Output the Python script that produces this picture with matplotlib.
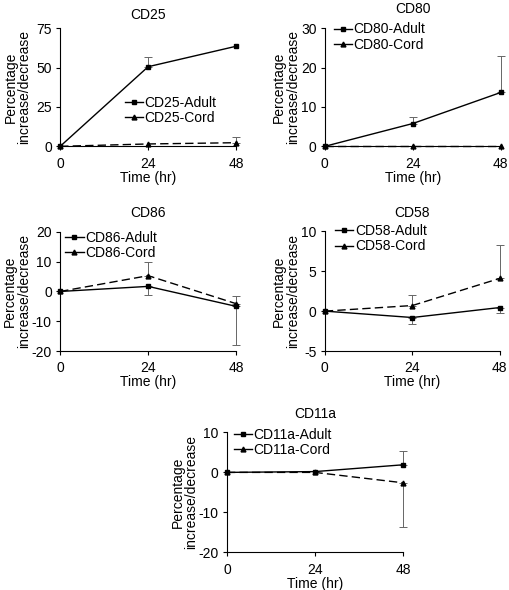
"""
variation (%) des marqueurs de surface — adulte vs cordon, 0/24/48 h
sortie : out.png
"""

import matplotlib
matplotlib.use("Agg")
import matplotlib.pyplot as plt

plt.rcParams["font.family"] = ["Liberation Sans", "DejaVu Sans"]
plt.rcParams["font.size"] = 10
plt.rcParams["axes.unicode_minus"] = False

# ── données ──────────────────────────────────────────────────────────────
TIME = [0, 24, 48]

MARKERS = ["CD25", "CD80", "CD86", "CD58", "CD11a"]

ADULT = {
    "CD25":  [0, 50.6, 63.6],
    "CD80":  [0, 5.8, 13.7],
    "CD86":  [0, 1.7, -5.0],
    "CD58":  [0, -0.8, 0.45],
    "CD11a": [0, 0.2, 1.9],
}
CORD = {
    "CD25":  [0, 1.5, 2.3],
    "CD80":  [0, 0, 0],
    "CD86":  [0, 5.3, -4.1],
    "CD58":  [0, 0.7, 4.1],
    "CD11a": [0, 0, -2.6],
}
# erreurs unilatérales (signe = direction de la barre)
ADULT_ERR = {
    "CD25":  [0, 6.4, 0],
    "CD80":  [0, 1.7, 9.2],
    "CD86":  [0, -3.0, -13.0],
    "CD58":  [0, -0.8, -0.7],
    "CD11a": [0, 0, 3.4],
}
CORD_ERR = {
    "CD25":  [0, 0, 3.4],
    "CD80":  [0, 0, 0],
    "CD86":  [0, 4.5, 2.7],
    "CD58":  [0, 1.3, 4.2],
    "CD11a": [0, 0, -11.1],
}

YLIM = {
    "CD25":  (0, 75),
    "CD80":  (0, 30),
    "CD86":  (-20, 20),
    "CD58":  (-5, 10),
    "CD11a": (-20, 10),
}
YTICKS = {
    "CD25":  [0, 25, 50, 75],
    "CD80":  [0, 10, 20, 30],
    "CD86":  [-20, -10, 0, 10, 20],
    "CD58":  [-5, 0, 5, 10],
    "CD11a": [-20, -10, 0, 10],
}

# positions des axes [gauche, bas, largeur, hauteur] en fraction de figure
POS = {
    "CD25":  [0.118, 0.752, 0.345, 0.200],
    "CD80":  [0.637, 0.752, 0.345, 0.200],
    "CD86":  [0.118, 0.405, 0.345, 0.202],
    "CD58":  [0.637, 0.405, 0.343, 0.203],
    "CD11a": [0.445, 0.064, 0.345, 0.203],
}
LEG_LOC = {
    "CD25":  (0.37, 0.43),
    "CD80":  (0.05, 1.05),
    "CD86":  (0.03, 1.01),
    "CD58":  (0.06, 1.06),
    "CD11a": (0.04, 1.04),
}
TITLE_PAD = {"CD25": 7, "CD80": 11, "CD86": 11, "CD58": 10.5, "CD11a": 10.5}
YLABEL_X = {"CD25": -0.163, "CD80": -0.14, "CD86": -0.165,
            "CD58": -0.142, "CD11a": -0.162}

fig = plt.figure(figsize=(5.1, 5.9), dpi=100)


def errbars(ax, y, err):
    for t, v, e in zip(TIME, y, err):
        if e == 0:
            continue
        ax.errorbar([t], [v], yerr=[[max(-e, 0)], [max(e, 0)]], fmt="none",
                    ecolor="#666666", elinewidth=0.7, capsize=3, capthick=0.7,
                    clip_on=False, zorder=1)


for name in MARKERS:
    ax = fig.add_axes(POS[name])
    errbars(ax, ADULT[name], ADULT_ERR[name])
    errbars(ax, CORD[name], CORD_ERR[name])
    ax.plot(TIME, ADULT[name], "-", color="black", lw=1, marker="s", ms=3,
            clip_on=False, zorder=3)
    ax.plot(TIME, CORD[name], color="black", lw=1, marker="^", ms=3.5,
            dashes=(6, 3), clip_on=False, zorder=3)

    ax.set_xlim(0, 48)
    ax.set_ylim(*YLIM[name])
    ax.set_xticks(TIME)
    ax.set_yticks(YTICKS[name])
    ax.spines[["top", "right"]].set_visible(False)
    ax.tick_params(direction="out", length=3, width=0.8, pad=3, labelsize=10)
    ax.tick_params(axis="x", pad=4.5)
    ax.set_title(name, fontsize=10, pad=TITLE_PAD[name])
    ax.set_xlabel("Time (hr)", fontsize=10, labelpad=0)
    ax.set_ylabel("Percentage\nincrease/decrease", fontsize=10,
                  linespacing=1.0)
    ax.yaxis.set_label_coords(YLABEL_X[name], 0.5)

    # légende : traits pleins dans la clé, comme l'original
    h_a = plt.Line2D([], [], color="black", lw=1, marker="s", ms=3)
    h_c = plt.Line2D([], [], color="black", lw=1, marker="^", ms=3.5)
    ax.legend([h_a, h_c], [f"{name}-Adult", f"{name}-Cord"],
              loc="upper left", bbox_to_anchor=LEG_LOC[name], frameon=False,
              fontsize=10, handlelength=1.3, handletextpad=0.1,
              labelspacing=0.1, borderpad=0, borderaxespad=0)

fig.savefig("out.png", dpi=100)
